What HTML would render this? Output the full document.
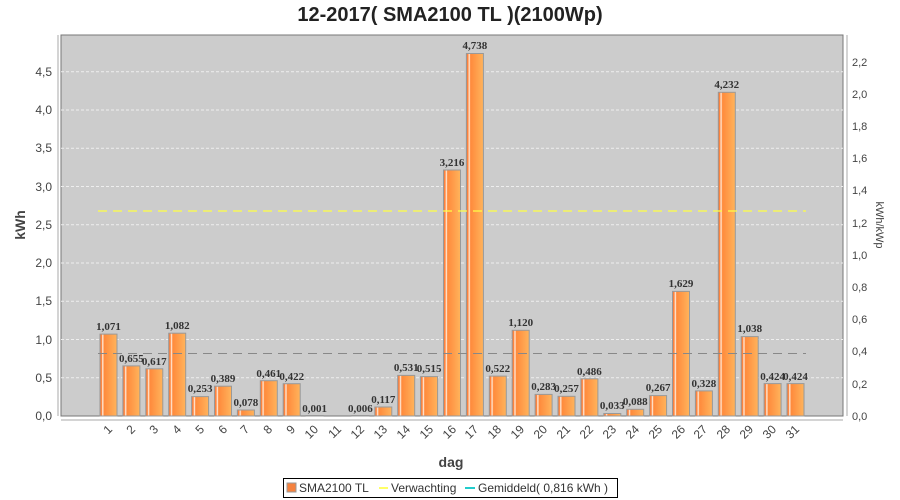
<!DOCTYPE html>
<html><head><meta charset="utf-8"><style>
html,body{margin:0;padding:0;background:#fff;}
svg{display:block;font-family:"Liberation Sans",sans-serif;}
.v{font-family:"Liberation Serif",serif;font-weight:bold;font-size:11px;fill:#333;text-anchor:middle;}
.t{font-size:12px;fill:#444;}
.x{font-size:12px;fill:#444;text-anchor:end;}
</style></head><body>
<svg width="900" height="500" viewBox="0 0 900 500">
<defs>
<linearGradient id="g" x1="0" x2="1" y1="0" y2="0">
<stop offset="0" stop-color="#f5763a"/><stop offset="0.1" stop-color="#ff8840"/>
<stop offset="0.16" stop-color="#fff2e6"/><stop offset="0.24" stop-color="#ff8a3c"/>
<stop offset="1" stop-color="#ffb45c"/></linearGradient>
</defs>
<text x="450" y="21" text-anchor="middle" font-size="20" font-weight="bold" fill="#222">12-2017( SMA2100 TL )(2100Wp)</text>
<rect x="61" y="35" width="782" height="381" fill="#cccccc" stroke="#777" stroke-width="1"/>
<g stroke="#eee" stroke-width="1" stroke-dasharray="3,2">
<line x1="61" x2="843" y1="377.75" y2="377.75"/><line x1="61" x2="843" y1="339.5" y2="339.5"/>
<line x1="61" x2="843" y1="301.25" y2="301.25"/><line x1="61" x2="843" y1="263" y2="263"/>
<line x1="61" x2="843" y1="224.75" y2="224.75"/><line x1="61" x2="843" y1="186.5" y2="186.5"/>
<line x1="61" x2="843" y1="148.25" y2="148.25"/><line x1="61" x2="843" y1="110" y2="110"/>
<line x1="61" x2="843" y1="71.75" y2="71.75"/>
</g>
<line x1="58" y1="35" x2="58" y2="416" stroke="#aaa"/>
<line x1="847" y1="35" x2="847" y2="416" stroke="#aaa"/>
<line x1="61" y1="420" x2="843" y2="420" stroke="#aaa"/>
<g class="t" text-anchor="end">
<text x="52" y="420">0,0</text><text x="52" y="382">0,5</text><text x="52" y="344">1,0</text>
<text x="52" y="305">1,5</text><text x="52" y="267">2,0</text><text x="52" y="229">2,5</text>
<text x="52" y="191">3,0</text><text x="52" y="152">3,5</text><text x="52" y="114">4,0</text>
<text x="52" y="76">4,5</text></g>
<g font-size="11" fill="#444">
<text x="852" y="420">0,0</text><text x="852" y="388">0,2</text><text x="852" y="355">0,4</text>
<text x="852" y="323">0,6</text><text x="852" y="291">0,8</text><text x="852" y="259">1,0</text>
<text x="852" y="227">1,2</text><text x="852" y="194">1,4</text><text x="852" y="162">1,6</text>
<text x="852" y="130">1,8</text><text x="852" y="98">2,0</text><text x="852" y="66">2,2</text></g>
<text transform="translate(25,225) rotate(-90)" text-anchor="middle" font-size="14" font-weight="bold" fill="#444">kWh</text>
<text transform="translate(876,225) rotate(90)" text-anchor="middle" font-size="11" fill="#444">kWh/kWp</text>
<text x="451" y="467" text-anchor="middle" font-size="14" font-weight="bold" fill="#444">dag</text>
<g fill="url(#g)" stroke="#999" stroke-width="1">
<rect x="100" y="334.1" width="17" height="81.9"/><rect x="122.9" y="365.9" width="17" height="50.1"/>
<rect x="145.8" y="368.8" width="17" height="47.2"/><rect x="168.7" y="333.2" width="17" height="82.8"/>
<rect x="191.6" y="396.6" width="17" height="19.4"/><rect x="214.5" y="386.2" width="17" height="29.8"/>
<rect x="237.4" y="410" width="17" height="6"/><rect x="260.3" y="380.7" width="17" height="35.3"/>
<rect x="283.2" y="383.7" width="17" height="32.3"/><rect x="306.1" y="415.5" width="17" height="0.5"/>
<rect x="351.9" y="415.5" width="17" height="0.5"/><rect x="374.8" y="407" width="17" height="9"/>
<rect x="397.7" y="375.4" width="17" height="40.6"/><rect x="420.6" y="376.6" width="17" height="39.4"/>
<rect x="443.5" y="170" width="17" height="246"/><rect x="466.4" y="53.5" width="17" height="362.5"/>
<rect x="489.3" y="376.1" width="17" height="39.9"/><rect x="512.2" y="330.3" width="17" height="85.7"/>
<rect x="535.1" y="394.4" width="17" height="21.6"/><rect x="558" y="396.3" width="17" height="19.7"/>
<rect x="580.9" y="378.8" width="17" height="37.2"/><rect x="603.8" y="413.5" width="17" height="2.5"/>
<rect x="626.7" y="409.3" width="17" height="6.7"/><rect x="649.6" y="395.6" width="17" height="20.4"/>
<rect x="672.5" y="291.4" width="17" height="124.6"/><rect x="695.4" y="390.9" width="17" height="25.1"/>
<rect x="718.3" y="92.3" width="17" height="323.7"/><rect x="741.2" y="336.6" width="17" height="79.4"/>
<rect x="764.1" y="383.6" width="17" height="32.4"/><rect x="787" y="383.6" width="17" height="32.4"/>
</g>
<line x1="98" y1="211" x2="806" y2="211" stroke="#ffff44" stroke-width="1.2" stroke-dasharray="9,6"/>
<line x1="98" y1="353.5" x2="806" y2="353.5" stroke="#888" stroke-width="1" stroke-dasharray="9,6"/>
<g class="v">
<text x="108.5" y="330">1,071</text><text x="131.4" y="362">0,655</text><text x="154.3" y="365">0,617</text>
<text x="177.2" y="329">1,082</text><text x="200.1" y="392">0,253</text><text x="223" y="382">0,389</text>
<text x="245.9" y="406">0,078</text><text x="268.8" y="377">0,461</text><text x="291.7" y="380">0,422</text>
<text x="314.6" y="412">0,001</text><text x="360.4" y="412">0,006</text><text x="383.3" y="403">0,117</text>
<text x="406.2" y="371">0,531</text><text x="429.1" y="372">0,515</text><text x="452" y="166">3,216</text>
<text x="474.9" y="49">4,738</text><text x="497.8" y="372">0,522</text><text x="520.7" y="326">1,120</text>
<text x="543.6" y="390">0,283</text><text x="566.5" y="392">0,257</text><text x="589.4" y="375">0,486</text>
<text x="612.3" y="409">0,033</text><text x="635.2" y="405">0,088</text><text x="658.1" y="391">0,267</text>
<text x="681" y="287">1,629</text><text x="703.9" y="387">0,328</text><text x="726.8" y="88">4,232</text>
<text x="749.7" y="332">1,038</text><text x="772.6" y="380">0,424</text><text x="795.5" y="380">0,424</text>
</g>
<g class="x">
<text transform="translate(113,430) rotate(-45)">1</text><text transform="translate(136,430) rotate(-45)">2</text>
<text transform="translate(159,430) rotate(-45)">3</text><text transform="translate(182,430) rotate(-45)">4</text>
<text transform="translate(205,430) rotate(-45)">5</text><text transform="translate(228,430) rotate(-45)">6</text>
<text transform="translate(250,430) rotate(-45)">7</text><text transform="translate(273,430) rotate(-45)">8</text>
<text transform="translate(296,430) rotate(-45)">9</text><text transform="translate(319,430) rotate(-45)">10</text>
<text transform="translate(342,430) rotate(-45)">11</text><text transform="translate(365,430) rotate(-45)">12</text>
<text transform="translate(388,430) rotate(-45)">13</text><text transform="translate(411,430) rotate(-45)">14</text>
<text transform="translate(434,430) rotate(-45)">15</text><text transform="translate(457,430) rotate(-45)">16</text>
<text transform="translate(479,430) rotate(-45)">17</text><text transform="translate(502,430) rotate(-45)">18</text>
<text transform="translate(525,430) rotate(-45)">19</text><text transform="translate(548,430) rotate(-45)">20</text>
<text transform="translate(571,430) rotate(-45)">21</text><text transform="translate(594,430) rotate(-45)">22</text>
<text transform="translate(617,430) rotate(-45)">23</text><text transform="translate(640,430) rotate(-45)">24</text>
<text transform="translate(663,430) rotate(-45)">25</text><text transform="translate(686,430) rotate(-45)">26</text>
<text transform="translate(708,430) rotate(-45)">27</text><text transform="translate(731,430) rotate(-45)">28</text>
<text transform="translate(754,430) rotate(-45)">29</text><text transform="translate(777,430) rotate(-45)">30</text>
<text transform="translate(800,430) rotate(-45)">31</text>
</g>
<rect x="283.5" y="478.5" width="334" height="19" fill="#fff" stroke="#000"/>
<rect x="287" y="483" width="9" height="9" fill="#f5823f" stroke="#999"/>
<text x="299" y="492" font-size="12" fill="#333">SMA2100 TL</text>
<line x1="379" y1="488" x2="388" y2="488" stroke="#ffff66" stroke-width="2"/>
<text x="391" y="492" font-size="12" fill="#333">Verwachting</text>
<line x1="465" y1="488" x2="475" y2="488" stroke="#22cccc" stroke-width="2"/>
<text x="478" y="492" font-size="12" fill="#333">Gemiddeld( 0,816 kWh )</text>
</svg>
</body></html>
